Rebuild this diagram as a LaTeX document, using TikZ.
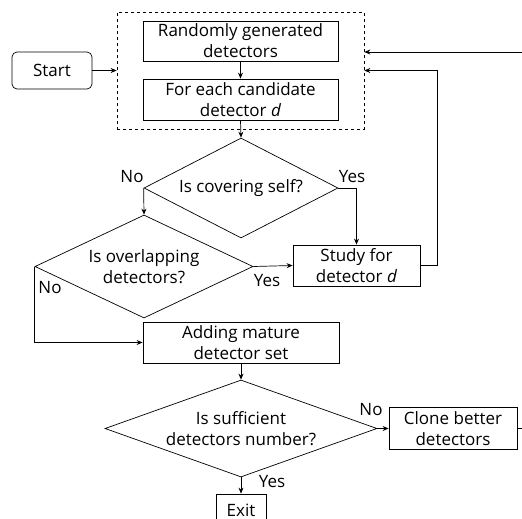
\documentclass[tikz,border=0pt]{standalone}
\usepackage{fontspec}
\setmainfont{Open Sans}
\usetikzlibrary{shapes.geometric,arrows.meta}
\begin{document}
\begin{tikzpicture}[x=1pt,y=-1pt,
  txt/.style={font=\fontsize{17}{21}\selectfont},
  box/.style={draw, line width=0.8pt, align=center, inner sep=0pt, txt},
  dia/.style={draw, diamond, line width=0.7pt, align=center, inner sep=0pt, txt},
  arr/.style={-{Stealth[length=6pt,width=5pt]}, line width=0.7pt},
  lbl/.style={txt, inner sep=0pt}]
\clip (0,0) rectangle (522,519);
\useasboundingbox (0,0) rectangle (522,519);
\node[draw, dashed, line width=0.7pt, minimum width=247pt, minimum height=117pt] (grp) at (240.5,70.5) {};
\node[box, minimum width=195pt, minimum height=40pt] (b1) at (240.5,41) {Randomly generated\\detectors};
\node[box, minimum width=195pt, minimum height=41pt] (b2) at (240.5,99.5) {For each candidate\\detector \textit{d}};
\node[box, rounded corners=5pt, line width=0.7pt, minimum width=80pt, minimum height=37pt] (start) at (52,70.5) {Start};
\node[dia, aspect=1.94, minimum width=194pt, minimum height=100pt] (d1) at (241,188) {Is covering self?};
\node[dia, aspect=2.12, minimum width=218pt, minimum height=103pt] (d2) at (144,266.5) {Is overlapping\\detectors?};
\node[box, minimum width=127pt, minimum height=41pt] (study) at (356.5,265.5) {Study for\\detector \textit{d}};
\node[box, minimum width=196pt, minimum height=41pt] (add) at (241,342.5) {Adding mature\\detector set};
\node[dia, aspect=2.8, minimum width=272pt, minimum height=97pt] (d3) at (241,428.5) {Is sufficient\\detectors number?};
\node[box, minimum width=128pt, minimum height=42pt] (clone) at (453,428.5) {Clone better\\detectors};
\node[box, minimum width=50pt, minimum height=32pt] (exit) at (241,510) {Exit};
\node[lbl] (l1) at (132,177) {No};
\node[lbl] (l2) at (352,177) {Yes};
\node[lbl] (l3) at (267,281) {Yes};
\node[lbl] (l4) at (50,288) {No};
\node[lbl] (l5) at (371,410) {No};
\node[lbl] (l6) at (272,482) {Yes};
\coordinate (c1) at (437,70.5);
\coordinate (c2) at (535,52);
\draw[arr] (start.east) -- (grp.west);
\draw[arr] (b1.south) -- (b2.north);
\draw[arr] (b2.south) -- (d1.north);
\draw[arr] (d1.west) -- (d2.north);
\draw[arr] (d1.east) -| (study.north);
\draw[arr] (d2.east) -- (study.west);
\draw[arr] (d2.west) |- (add.west);
\draw[arr] (add.south) -- (d3.north);
\draw[arr] (d3.east) -- (clone.west);
\draw[arr] (d3.south) -- (exit.north);
\draw[arr] (study.east) -| (c1) -- (grp.east);
\draw[arr] (clone.east) -| (c2) -- (grp.east |- c2);
\end{tikzpicture}
\end{document}
